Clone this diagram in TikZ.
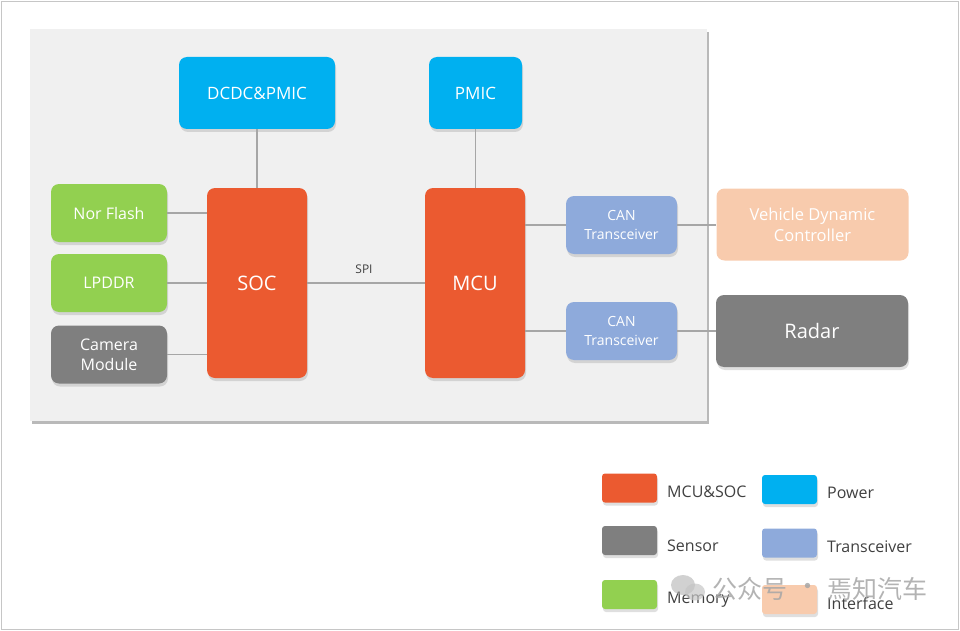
\documentclass[tikz,border=0pt]{standalone}
\usepackage{fontspec}
\setmainfont{Open Sans}
\newfontfamily\cjk{Noto Sans CJK SC}
\usetikzlibrary{shadows}
\definecolor{chiporange}{HTML}{EB5A30}
\definecolor{powerblue}{HTML}{00B0F0}
\definecolor{memgreen}{HTML}{92D050}
\definecolor{sensorgray}{HTML}{7F7F7F}
\definecolor{canblue}{HTML}{8EAADB}
\definecolor{ifpeach}{HTML}{F8CBAD}
\definecolor{panelgray}{HTML}{F0F0F0}
\definecolor{wiregray}{HTML}{A6A6A6}
\definecolor{labelgray}{HTML}{404040}
\begin{document}
\begin{tikzpicture}[x=1pt,y=1pt]
\tikzstyle{every node}+=[inner sep=0pt]
\tikzstyle{blk}=[rounded corners=8pt, text=white, align=center,
  drop shadow={shadow xshift=1pt, shadow yshift=-3pt, opacity=0.25}]
\tikzstyle{chip}=[blk, fill=chiporange, minimum width=100pt, minimum height=190pt, font=\fontsize{20}{24}\selectfont]
\tikzstyle{pwr}=[blk, fill=powerblue, minimum height=72pt, font=\fontsize{17}{20}\selectfont]
\tikzstyle{side}=[blk, minimum width=116pt, minimum height=58pt, font=\fontsize{16}{20}\selectfont]
\tikzstyle{trx}=[blk, fill=canblue, minimum width=111pt, minimum height=58pt, font=\fontsize{14}{19}\selectfont]
\tikzstyle{ext}=[rounded corners=8pt, text=white, align=center, minimum width=192pt, minimum height=72pt]
\tikzstyle{swatch}=[rounded corners=3pt, minimum width=55pt, minimum height=29pt,
  drop shadow={shadow xshift=1pt, shadow yshift=-3pt, opacity=0.25}]
\tikzstyle{key}=[anchor=west, text=labelgray, font=\fontsize{16}{18}\selectfont]
\tikzstyle{wire}=[wiregray, line width=1.2pt]

\useasboundingbox (0,0) rectangle (960,-631);
\draw [gray!45] (1,-1) rectangle (958,-629);

% panel
\fill [gray!55] (32,-32) rectangle (709,-424);
\fill [panelgray] (30,-29) rectangle (707,-421);

% blocks
\node [pwr, minimum width=156pt] (dcdc) at (257,-93) {DCDC\&PMIC};
\node [pwr, minimum width=93pt] (pmic) at (475.5,-93) {PMIC};
\node [chip] (soc) at (257,-283) {SOC};
\node [chip] (mcu) at (475,-283) {MCU};
\node [side, fill=memgreen] (nor) at (109,-213) {Nor Flash};
\node [side, fill=memgreen] (lpddr) at (109,-283) {LPDDR};
\node [side, fill=sensorgray] (cam) at (109,-354.5) {Camera\\Module};
\node [trx] (can1) at (621.5,-225) {CAN\\Transceiver};
\node [trx] (can2) at (621.5,-331) {CAN\\Transceiver};
\node [ext, fill=ifpeach, font=\fontsize{16.5}{21}\selectfont] (vdc) at (812.5,-224.5) {Vehicle Dynamic\\Controller};
\node [ext, fill=sensorgray, font=\fontsize{20}{24}\selectfont,
  drop shadow={shadow xshift=1pt, shadow yshift=-3pt, opacity=0.25}] (radar) at (812,-331) {Radar};

% connections
\draw [wire] (dcdc.south) -- (soc.north);
\draw [wire] (pmic.south) -- (pmic.south |- mcu.north);
\draw [wire] (nor.east) -- (nor.east -| soc.west);
\draw [wire] (lpddr.east) -- (lpddr.east -| soc.west);
\draw [wire] (cam.east) -- (cam.east -| soc.west);
\draw [wire] (soc.east) -- (mcu.west);
\node [text=labelgray, font=\fontsize{12}{14}\selectfont] (spi) at (364,-269) {SPI};
\draw [wire] (can1.west -| mcu.east) -- (can1.west);
\draw [wire] (can2.west -| mcu.east) -- (can2.west);
\draw [wire] (can1.east) -- (can1.east -| vdc.west);
\draw [wire] (can2.east) -- (can2.east -| radar.west);

% legend
\node [swatch, fill=chiporange] (kchip) at (629.5,-488) {};
\node [key] (lchip) at (667,-492) {MCU\&SOC};
\node [swatch, fill=powerblue] (kpwr) at (789.5,-489.5) {};
\node [key] (lpwr) at (827,-493) {Power};
\node [swatch, fill=sensorgray] (ksen) at (629.5,-540.5) {};
\node [key] (lsen) at (667,-546) {Sensor};
\node [swatch, fill=canblue] (ktrx) at (789.5,-543) {};
\node [key] (ltrx) at (827,-547) {Transceiver};
\node [swatch, fill=memgreen] (kmem) at (629.5,-594.5) {};
\node [key] (lmem) at (667,-600) {Memory};
\node [swatch, fill=ifpeach, drop shadow={opacity=0}] (kif) at (789.5,-599.5) {};
\node [key] (lif) at (827,-603) {Interface};

% watermark
\fill [gray!60, opacity=0.6] (683,-585) ellipse (12pt and 10pt);
\fill [gray!45, opacity=0.7] (695,-592) ellipse (10pt and 8.5pt);
\node [anchor=west, text=gray!70, opacity=0.85, font=\cjk\fontsize{25}{28}\selectfont] (wm1) at (712,-589) {公众号};
\node [text=gray!70, opacity=0.85, font=\cjk\fontsize{25}{28}\selectfont] (wmdot) at (808,-589) {·};
\node [anchor=west, text=gray!70, opacity=0.85, font=\cjk\fontsize{25}{28}\selectfont] (wm2) at (827,-589) {焉知汽车};
\end{tikzpicture}
\end{document}
